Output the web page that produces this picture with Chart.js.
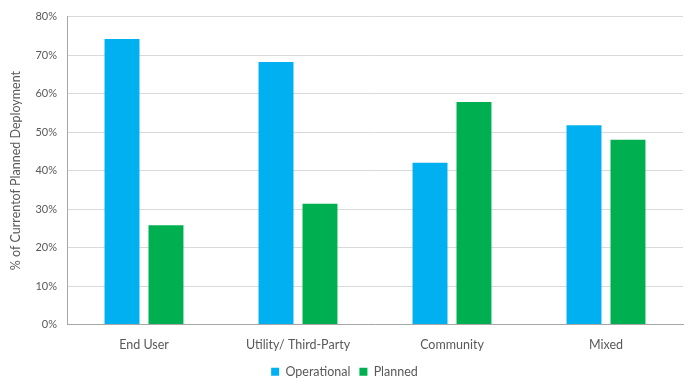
<!DOCTYPE html>
<html><head><meta charset="utf-8">
<script src="https://cdn.jsdelivr.net/npm/chart.js@4"></script>
<style>html,body{margin:0;padding:0;background:#fff}#wrap{width:692px;height:388px}</style>
</head><body><div id="wrap"><canvas id="c" width="692" height="388"></canvas></div>
<script>
const categories = ["End User", "Utility/ Third-Party", "Community", "Mixed"];
const operational = [74.2, 68.2, 42.0, 51.8];
const planned = [25.8, 31.4, 57.8, 48.0];
const yTitle = "% of Currentof Planned Deployment";

const FONT = "Lato, 'Open Sans', sans-serif";
new Chart(document.getElementById('c'), {
  type: 'bar',
  data: {
    labels: categories,
    datasets: [
      {label: 'Operational', data: operational, backgroundColor: '#00B0F0'},
      {label: 'Planned', data: planned, backgroundColor: '#00B050'}
    ]
  },
  options: {
    responsive: false, animation: false,
    layout: {padding: {top: 15, right: 9, left: 6, bottom: 0}},
    categoryPercentage: 0.571, barPercentage: 0.795,
    plugins: {
      legend: {position: 'bottom', labels: {boxWidth: 8, boxHeight: 8, color: '#595959', font: {family: FONT, size: 12.5}, padding: 9}},
      tooltip: {enabled: false}
    },
    scales: {
      x: {
        grid: {display: false, drawTicks: false},
        border: {color: '#a6a6a6'},
        ticks: {color: '#595959', font: {family: FONT, size: 12.5}, padding: 13},
        afterFit: s => { s.height = 32; }
      },
      y: {
        min: 0, max: 80,
        ticks: {stepSize: 10, callback: v => v + '%', color: '#595959', font: {family: FONT, size: 11}, padding: 10},
        grid: {color: '#d9d9d9', drawTicks: false},
        border: {color: '#a6a6a6'},
        title: {display: true, text: yTitle, color: '#595959', font: {family: FONT, size: 12.5}, padding: 2},
        afterFit: s => { s.width = 61; }
      }
    }
  }
});
</script></body></html>
